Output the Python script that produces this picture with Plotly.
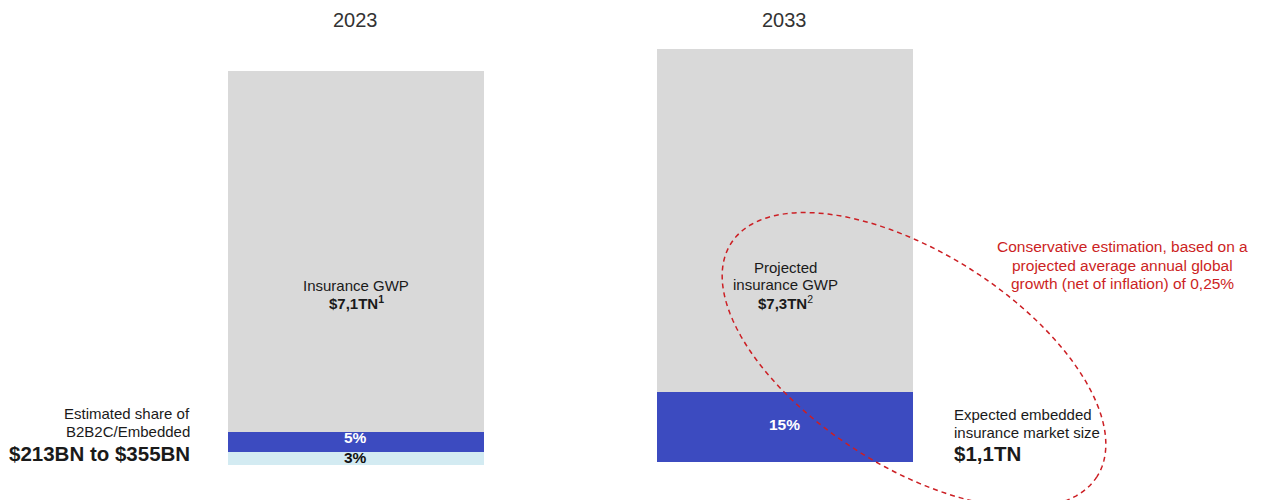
import numpy as np
import plotly.graph_objects as go

W, H = 1261, 500

# ---------------- data ----------------
years = ["2023", "2033"]
# segment heights as % of each bar, bottom -> top
seg_names_2023 = ["Embedded (low, 3%)", "Embedded (high, 5%)", "Insurance GWP"]
seg_vals_2023 = [3.3, 5.1, 91.6]
seg_labels_2023 = ["3%", "5%", ""]
seg_names_2033 = ["Embedded (15%)", "Projected insurance GWP"]
seg_vals_2033 = [17.0, 83.0]
seg_labels_2033 = ["15%", ""]

# ---------------- styles ----------------
GRAY = "#d9d9d9"
BLUE = "#3c4bc0"
LIGHT = "#d3ebf2"
RED = "#cc1f24"
FONT = "Liberation Sans, Arial, Helvetica, sans-serif"
cols_2023 = [LIGHT, BLUE, GRAY]
cols_2033 = [BLUE, GRAY]
lab_cols_2023 = ["#111111", "white", "#111111"]
lab_cols_2033 = ["white", "#111111"]
lab_shift_2023 = [1.5, 4, 0]
lab_shift_2033 = [2, 0]
xpos = [0, 1]  # slot index of each year on the x axis

def px(x):
    return x / W

def py(y):
    return 1 - y / H

fig = go.Figure()
BW = 0.5967
for v, c, n in zip(seg_vals_2023, cols_2023, seg_names_2023):
    fig.add_trace(go.Bar(x=[xpos[0]], y=[v], name=n, marker=dict(color=c, line=dict(width=0)),
                         width=BW, xaxis="x", yaxis="y", hoverinfo="name"))
for v, c, n in zip(seg_vals_2033, cols_2033, seg_names_2033):
    fig.add_trace(go.Bar(x=[xpos[1]], y=[v], name=n, marker=dict(color=c, line=dict(width=0)),
                         width=BW, xaxis="x", yaxis="y2", hoverinfo="name"))

annotations = []
# segment labels placed through the axes
cum = 0
for v, lab, lc, sh in zip(seg_vals_2023, seg_labels_2023, lab_cols_2023, lab_shift_2023):
    if lab:
        annotations.append(dict(x=xpos[0], y=cum + v / 2, xref="x", yref="y", text=f"<b>{lab}</b>",
                                showarrow=False, yshift=sh, yanchor="middle",
                                font=dict(size=15.5, color=lc, family=FONT)))
    cum += v
cum = 0
for v, lab, lc, sh in zip(seg_vals_2033, seg_labels_2033, lab_cols_2033, lab_shift_2033):
    if lab:
        annotations.append(dict(x=xpos[1], y=cum + v / 2, xref="x", yref="y2", text=f"<b>{lab}</b>",
                                showarrow=False, yshift=sh, yanchor="middle",
                                font=dict(size=15.5, color=lc, family=FONT)))
    cum += v

# year titles
for xp, yr in zip(xpos, years):
    annotations.append(dict(x=xp, y=py(20), xref="x", yref="paper", text=yr, showarrow=False,
                            yanchor="middle", font=dict(size=20, color="#333333", family=FONT)))

def txt(x, y, text, size=15, color="#1a1a1a", xanchor="center"):
    annotations.append(dict(x=px(x), y=py(y), xref="paper", yref="paper", text=text, showarrow=False,
                            xanchor=xanchor, yanchor="middle", align=xanchor if xanchor != "center" else "center",
                            font=dict(size=size, color=color, family=FONT)))

# inside gray bars
txt(356, 285, "Insurance GWP")
txt(356, 302, "<b>$7,1TN<sup>1</sup></b>")
txt(785, 267, "Projected")
txt(785, 284, "insurance GWP")
txt(785, 302, "<b>$7,3TN</b><sup>2</sup>")

# left side text
txt(192, 413, "Estimated share of", xanchor="right")
txt(192, 431, "B2B2C/Embedded", xanchor="right")
txt(192, 453, "<b>$213BN to $355BN</b>", size=20.5, xanchor="right")

# right side text
txt(952, 414, "Expected embedded", xanchor="left")
txt(952, 432, "insurance market size", xanchor="left")
txt(952, 453, "<b>$1,1TN</b>", size=20.5, xanchor="left")

# red note
txt(1122, 246, "Conservative estimation, based on a", size=15.5, color=RED)
txt(1122, 265, "projected average annual global", size=15.5, color=RED)
txt(1122, 283, "growth (net of inflation) of 0,25%", size=15.5, color=RED)

# dashed ellipse (annotation highlight)
cx, cy, a, b, th = 914, 360, 217, 107, np.deg2rad(32.5)
t = np.linspace(0, 2 * np.pi, 240)
ex = cx + a * np.cos(t) * np.cos(th) - b * np.sin(t) * np.sin(th)
ey = cy + a * np.cos(t) * np.sin(th) + b * np.sin(t) * np.cos(th)
path = "M " + " L ".join(f"{px(x):.5f},{py(y):.5f}" for x, y in zip(ex, ey)) + " Z"

fig.update_layout(
    width=W, height=H,
    margin=dict(l=0, r=0, t=0, b=0),
    paper_bgcolor="white", plot_bgcolor="rgba(0,0,0,0)",
    barmode="stack", bargap=0,
    showlegend=False,
    xaxis=dict(range=[-0.8298, 2.1096], visible=False, fixedrange=True),
    yaxis=dict(domain=[0.07, 0.858], range=[0, 100], visible=False, fixedrange=True),
    yaxis2=dict(domain=[0.076, 0.902], range=[0, 100], visible=False, anchor="x", fixedrange=True),
    annotations=annotations,
    shapes=[dict(type="path", path=path, xref="paper", yref="paper",
                 line=dict(color=RED, width=1.5, dash="5px,4px"), layer="above")],
)

fig.write_html("out.html")
